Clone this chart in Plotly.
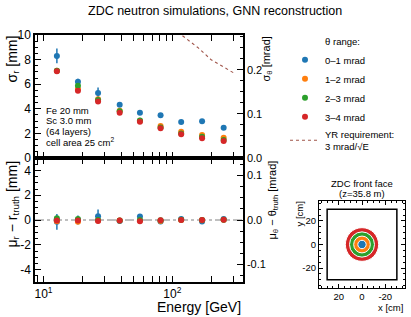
import plotly.graph_objects as go

W, H = 411, 317
def fx(p): return p / W
def fy(p): return 1 - p / H

# ---------------- data ----------------
energy = [12.7, 18.5, 26.5, 39, 56, 81, 117, 170, 250]
labels = ['0–1 mrad', '1–2 mrad', '2–3 mrad', '3–4 mrad']
colors = ['#1f77b4', '#ff7f0e', '#2ca02c', '#d62728']

sigma_r_01 = [8.3, 6.2, 5.28, 4.33, 3.68, 3.47, 2.93, 2.98, 2.46]
sigma_r_12 = [7.1, 5.6, 4.77, 3.85, 3.03, 2.6, 2.14, 1.87, 1.65]
sigma_r_23 = [7.1, 5.88, 4.72, 3.8, 3.05, 2.47, 2.0, 1.73, 1.46]
sigma_r_34 = [7.05, 5.47, 4.6, 3.68, 2.95, 2.41, 1.93, 1.6, 1.38]
sigma_err_01 = [0.6, 0.25, 0.45, 0.12, 0.1, 0.1, 0.1, 0.1, 0.1]
sigma_err_other = [0.1, 0.08, 0.08, 0.06, 0.05, 0.05, 0.05, 0.05, 0.05]

mu_r_01 = [-0.15, 0.0, 0.3, -0.08, 0.28, -0.12, 0.08, -0.13, 0.08]
mu_r_12 = [-0.1, -0.14, -0.05, -0.05, -0.05, -0.08, 0.0, -0.03, 0.02]
mu_r_23 = [0.15, 0.08, 0.0, -0.05, 0.0, -0.02, 0.02, 0.0, 0.02]
mu_r_34 = [-0.05, -0.05, -0.08, -0.05, -0.1, -0.03, 0.0, 0.0, 0.02]
mu_err_01 = [0.64, 0.37, 0.55, 0.2, 0.2, 0.15, 0.15, 0.15, 0.15]
mu_err_other = [0.15, 0.12, 0.1, 0.08, 0.08, 0.06, 0.06, 0.06, 0.06]

yr_energy = [110, 159, 200, 250, 300]
yr_mrad = [0.286, 0.25, 0.223, 0.207, 0.193]

z_m = 35.8                      # ZDC distance [m]
theta_edges = [1, 2, 3, 4]      # mrad ring outer edges
zdc_half = 30                   # cm

sig_all = [sigma_r_01, sigma_r_12, sigma_r_23, sigma_r_34]
sig_err = [sigma_err_01, sigma_err_other, sigma_err_other, sigma_err_other]
mu_all = [mu_r_01, mu_r_12, mu_r_23, mu_r_34]
mu_errs = [mu_err_01, mu_err_other, mu_err_other, mu_err_other]

FONT = 'Liberation Sans'
fig = go.Figure()

for lab, col, ys, es in zip(labels, colors, sig_all, sig_err):
    fig.add_trace(go.Scatter(
        x=energy, y=ys, mode='markers', name=lab, xaxis='x2', yaxis='y3',
        marker=dict(color=col, size=6),
        error_y=dict(type='data', array=es, color=col, thickness=1.5, width=0),
        legendgroup=lab))

fig.add_trace(go.Scatter(
    x=yr_energy, y=yr_mrad, mode='lines', xaxis='x2', yaxis='y4',
    name='YR requirement:<br>3 mrad/√E',
    line=dict(color='#a0554a', width=1.1, dash='dot')))

for lab, col, ys, es in zip(labels, colors, mu_all, mu_errs):
    fig.add_trace(go.Scatter(
        x=energy, y=ys, mode='markers', name=lab, xaxis='x', yaxis='y',
        marker=dict(color=col, size=6), showlegend=False,
        error_y=dict(type='data', array=es, color=col, thickness=1.5, width=0),
        legendgroup=lab))

# empty traces to materialise secondary axes / inset
fig.add_trace(go.Scatter(x=[], y=[], xaxis='x', yaxis='y2', showlegend=False))
fig.add_trace(go.Scatter(x=[], y=[], xaxis='x3', yaxis='y5', showlegend=False))

xdom = [fx(35), fx(243)]
ytop = [fy(158), fy(35)]
ybot = [fy(282), fy(158)]

minor_x = [9, 20, 30, 40, 50, 60, 70, 80, 90, 200, 300]
common = dict(showline=True, linecolor='black', linewidth=1.5, ticks='inside',
              tickcolor='black', ticklen=6, tickwidth=1, showgrid=False,
              zeroline=False, automargin=False,
              tickfont=dict(family=FONT, size=12, color='black'))
small_tf = dict(family=FONT, size=11, color='black')
inset_tf = dict(family=FONT, size=9.5, color='black')

xr = [0.934, 2.548]
fig.update_layout(
    xaxis=dict(domain=xdom, anchor='y', type='log', range=xr,
               tickvals=[10, 100], ticktext=['10<sup>1</sup>', '10<sup>2</sup>'],
               mirror='allticks',
               minor=dict(tickvals=minor_x, ticks='inside', ticklen=3, tickcolor='black'),
               **common),
    xaxis2=dict(domain=xdom, anchor='y3', type='log', range=xr, matches='x',
                tickvals=[10, 100], showticklabels=False, mirror='allticks',
                minor=dict(tickvals=minor_x, ticks='inside', ticklen=3, tickcolor='black'),
                **common),
    yaxis=dict(domain=ybot, anchor='x', range=[-5, 5],
               tickvals=[-4, -2, 0, 2, 4], ticktext=['-4', '-2', '0', '2', '4'],
               minor=dict(dtick=0.5, ticks='inside', ticklen=3, tickcolor='black'),
               **common),
    yaxis2=dict(overlaying='y', side='right', anchor='x',
                range=[-5 / z_m, 5 / z_m],
                tickvals=[-0.1, 0, 0.1], ticktext=['-0.1', '0.0', '0.1'],
                minor=dict(dtick=0.025, ticks='inside', ticklen=3, tickcolor='black'),
                **{**common, 'tickfont': small_tf}),
    yaxis3=dict(domain=ytop, anchor='x2', range=[0, 10],
                tickvals=[0, 2, 4, 6, 8, 10],
                minor=dict(dtick=0.5, ticks='inside', ticklen=3, tickcolor='black'),
                **common),
    yaxis4=dict(overlaying='y3', side='right', anchor='x2',
                range=[0, 10 / z_m],
                tickvals=[0, 0.1, 0.2], ticktext=['0.0', '0.1', '0.2'],
                minor=dict(dtick=0.025, ticks='inside', ticklen=3, tickcolor='black'),
                **{**common, 'tickfont': small_tf}),
    xaxis3=dict(domain=[fx(319), fx(405)], anchor='y5', range=[37, -37],
                tickvals=[20, 0, -20], ticktext=['20', '0', '-20'], mirror='allticks',
                minor=dict(dtick=5, ticks='inside', ticklen=2, tickcolor='black'),
                **{**common, 'linewidth': 1, 'ticklen': 4, 'tickfont': inset_tf}),
    yaxis5=dict(domain=[fy(288), fy(201)], anchor='x3', range=[-37, 37],
                tickvals=[-20, 0, 20], ticktext=['-20', '0', '20'], mirror='allticks',
                minor=dict(dtick=5, ticks='inside', ticklen=2, tickcolor='black'),
                **{**common, 'linewidth': 1, 'ticklen': 4, 'tickfont': inset_tf}),
)

# zero line in bottom panel
fig.add_shape(type='line', xref='x domain', yref='y', x0=0, x1=1, y0=0, y1=0,
              line=dict(color='gray', width=1, dash='dashdot'), layer='below')

# inset: ZDC square and theta rings
fig.add_shape(type='rect', xref='x3', yref='y5', x0=-zdc_half, x1=zdc_half,
              y0=-zdc_half, y1=zdc_half, line=dict(color='black', width=1.5))
for th, col in reversed(list(zip(theta_edges, colors))):
    r = th * z_m / 10.0  # mrad * m -> mm; /10 -> cm
    fig.add_shape(type='circle', xref='x3', yref='y5', x0=-r, x1=r, y0=-r, y1=r,
                  fillcolor=col, line=dict(color='white', width=1))

ann = []
def text(x, y, s, size, xanchor='center', yanchor='middle', angle=0):
    ann.append(dict(x=x, y=y, xref='paper', yref='paper', text=s, showarrow=False,
                    xanchor=xanchor, yanchor=yanchor, textangle=angle,
                    font=dict(family=FONT, size=size, color='black')))

text(fx(215), fy(11), 'ZDC neutron simulations, GNN reconstruction', 12.5)
text(fx(12), fy(34), 'σ<sub>r</sub> [mm]', 14, yanchor='top', angle=-90)
text(fx(12), fy(159), 'μ<sub>r</sub> − r<sub>truth</sub> [mm]', 14, yanchor='top', angle=-90)
text(fx(267), fy(35), 'σ<sub>θ</sub> [mrad]', 11, yanchor='top', angle=-90)
text(fx(272), fy(159), 'μ<sub>θ</sub> − θ<sub>truth</sub> [mrad]', 11, yanchor='top', angle=-90)
text(fx(243), fy(306.5), 'Energy [GeV]', 14, xanchor='right')
for yy, s in zip([110.5, 120.8, 131.1, 141.6],
                 ['Fe 20 mm', 'Sc 3.0 mm', '(64 layers)', 'cell area 25 cm<sup>2</sup>']):
    text(fx(44), fy(yy), s, 9.5, xanchor='left')
text(fx(362), fy(183), 'ZDC front face', 9.5)
text(fx(362), fy(193), '(z=35.8 m)', 9.5)
text(fx(299), fy(200), 'y [cm]', 9.5, yanchor='top', angle=-90)
text(fx(405), fy(307), 'x [cm]', 9.5, xanchor='right')

fig.update_layout(
    annotations=ann,
    width=W, height=H, margin=dict(l=0, r=0, t=0, b=0, pad=0, autoexpand=False),
    paper_bgcolor='white', plot_bgcolor='white',
    legend=dict(x=fx(285), y=fy(33), xanchor='left', yanchor='top',
                bgcolor='rgba(0,0,0,0)',
                font=dict(family=FONT, size=9.5, color='black'),
                title=dict(text='θ range:', side='top center',
                           font=dict(family=FONT, size=9.5, color='black')),
                itemwidth=30, tracegroupgap=0),
    font=dict(family=FONT),
)

fig.write_html('out.html', config={'displayModeBar': False},
               post_script="document.body.style.margin='0px';")
